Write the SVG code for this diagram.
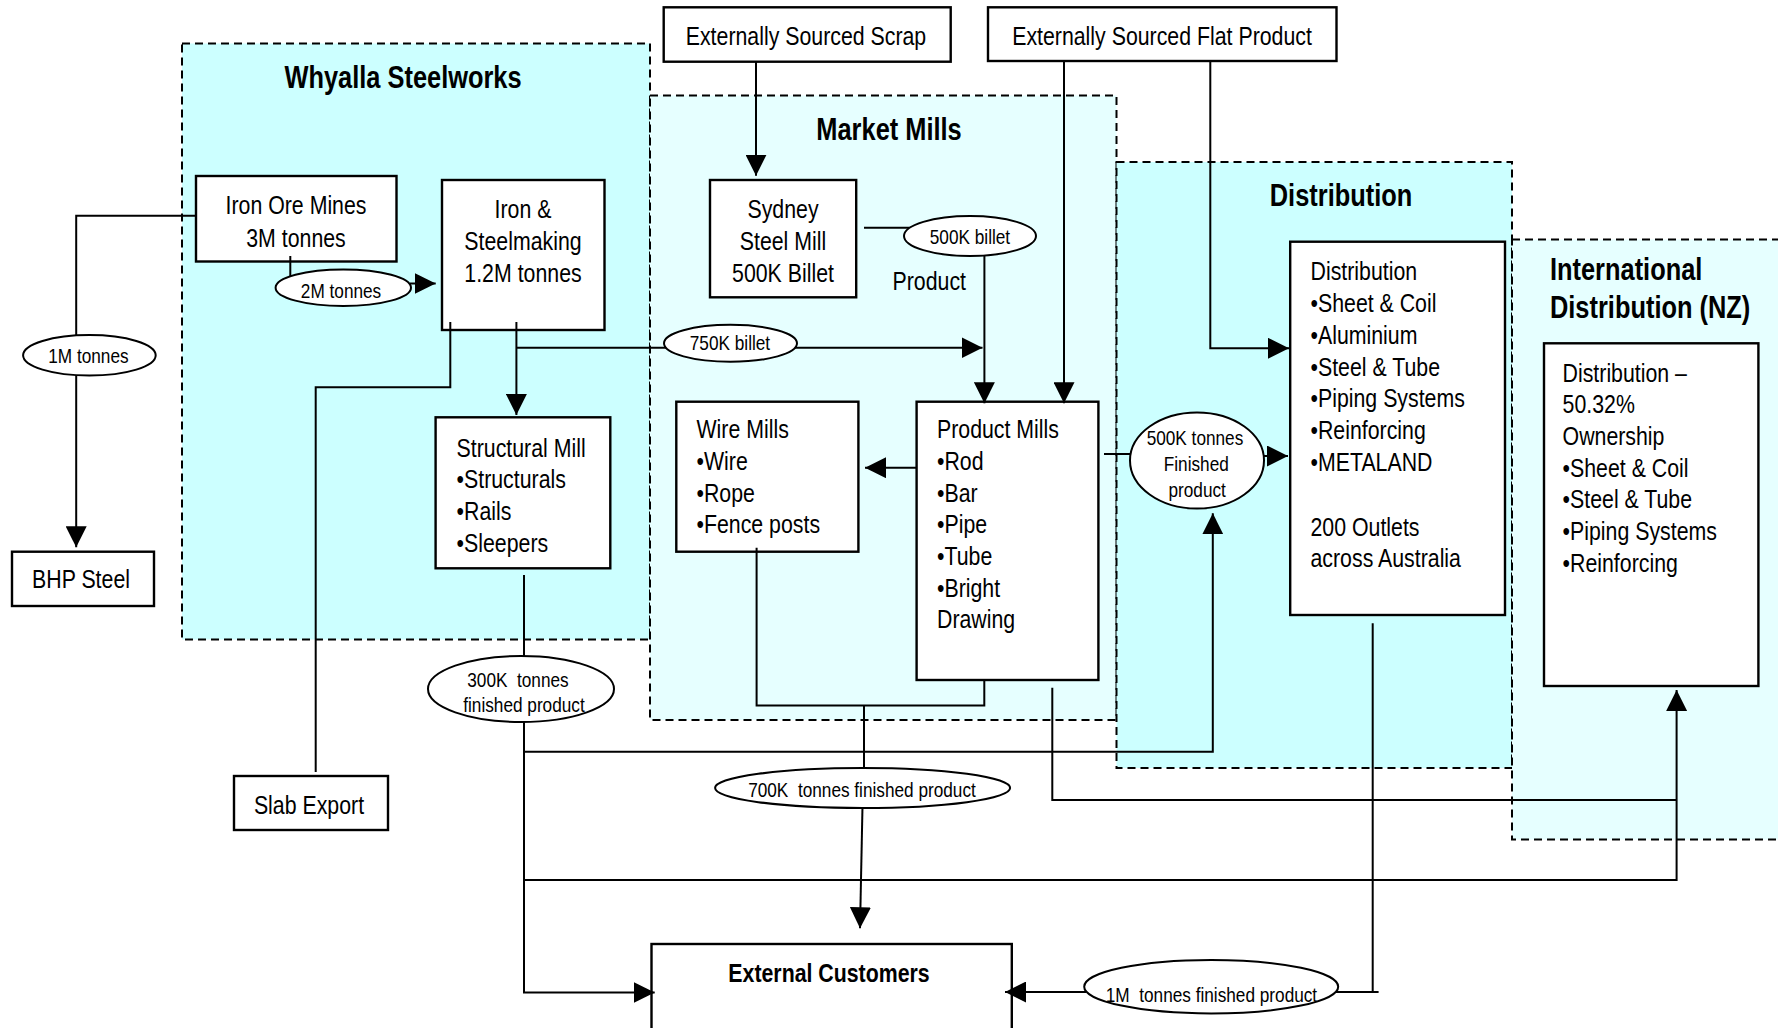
<svg xmlns="http://www.w3.org/2000/svg" width="1778" height="1028" viewBox="0 0 1778 1028">
<defs>
<style>
.reg1{fill:#CCFFFF;stroke:#000;stroke-width:2;stroke-dasharray:8,5}
.reg2{fill:#E6FFFF;stroke:#000;stroke-width:2;stroke-dasharray:8,5}
.box{fill:#fff;stroke:#000;stroke-width:2.4}
.ell{fill:#fff;stroke:#000;stroke-width:2}
.c{fill:none;stroke:#000;stroke-width:2}
.ca{fill:none;stroke:#000;stroke-width:2;marker-end:url(#arr)}
text{font-family:"Liberation Sans",Arial,sans-serif;fill:#000}
.t{font-size:26px}
.m{text-anchor:middle}
.h{font-size:31px;font-weight:bold}
.b{font-size:26px;font-weight:bold}
.e{font-size:21px;text-anchor:middle;white-space:pre}
</style>
<marker id="arr" markerUnits="userSpaceOnUse" markerWidth="21" markerHeight="21" refX="21" refY="10.5" orient="auto">
<path d="M0,0 L21,10.5 L0,21 Z" fill="#000"/>
</marker>
</defs>
<rect width="1778" height="1028" fill="#fff"/>

<g id="regions">
<g id="region-whyalla">
<rect class="reg1" x="182" y="43.5" width="468" height="596"/>
<g transform="scale(0.82 1)"><text class="h m" x="491.5" y="88">Whyalla Steelworks</text></g>
</g>
<g id="region-market">
<rect class="reg2" x="650" y="95.5" width="466.5" height="624.5"/>
<g transform="scale(0.82 1)"><text class="h m" x="1084.2" y="140">Market Mills</text></g>
</g>
<g id="region-distribution">
<rect class="reg1" x="1116.5" y="162" width="395.5" height="606"/>
<g transform="scale(0.82 1)"><text class="h m" x="1635.4" y="206">Distribution</text></g>
</g>
<g id="region-international">
<rect class="reg2" x="1512" y="239.5" width="300" height="600"/>
<g transform="scale(0.82 1)">
<text class="h" x="1890.2" y="280">International</text>
<text class="h" x="1890.2" y="318">Distribution (NZ)</text>
</g>
</g>
</g>

<g id="iron-ore-mines">
<rect class="box" x="196" y="176" width="200.5" height="85.5"/>
<g transform="scale(0.82 1)">
<text class="t m" x="361" y="214">Iron Ore Mines</text>
<text class="t m" x="361" y="246.7">3M tonnes</text>
</g>
</g>
<g id="iron-steelmaking">
<rect class="box" x="442" y="180" width="162.5" height="150"/>
<g transform="scale(0.82 1)">
<text class="t m" x="637.8" y="218">Iron &amp;</text>
<text class="t m" x="637.8" y="250">Steelmaking</text>
<text class="t m" x="637.8" y="282">1.2M tonnes</text>
</g>
</g>
<g id="structural-mill">
<rect class="box" x="435.6" y="417.3" width="174.7" height="151"/>
<g transform="scale(0.82 1)">
<text class="t" x="556.8" y="456.7">Structural Mill</text>
<text class="t" x="556.8" y="488.3">•Structurals</text>
<text class="t" x="556.8" y="520">•Rails</text>
<text class="t" x="556.8" y="551.7">•Sleepers</text>
</g>
</g>
<g id="bhp-steel">
<rect class="box" x="12" y="551.7" width="142" height="54.3"/>
<g transform="scale(0.82 1)"><text class="t m" x="98.8" y="588">BHP Steel</text></g>
</g>
<g id="slab-export">
<rect class="box" x="234" y="776" width="154" height="54"/>
<g transform="scale(0.82 1)"><text class="t m" x="376.8" y="814">Slab Export</text></g>
</g>
<g id="ext-scrap">
<rect class="box" x="663.7" y="7.3" width="287" height="54.4"/>
<g transform="scale(0.82 1)"><text class="t m" x="982.9" y="45">Externally Sourced Scrap</text></g>
</g>
<g id="ext-flat">
<rect class="box" x="988" y="7.3" width="348.5" height="53.7"/>
<g transform="scale(0.82 1)"><text class="t m" x="1417.1" y="45">Externally Sourced Flat Product</text></g>
</g>
<g id="sydney-steel-mill">
<rect class="box" x="710" y="180" width="146.2" height="117.3"/>
<g transform="scale(0.82 1)">
<text class="t m" x="954.9" y="218.3">Sydney</text>
<text class="t m" x="954.9" y="250">Steel Mill</text>
<text class="t m" x="954.9" y="281.7">500K Billet</text>
</g>
</g>
<g id="wire-mills">
<rect class="box" x="676.3" y="401.7" width="182.1" height="150"/>
<g transform="scale(0.82 1)">
<text class="t" x="849.4" y="438.3">Wire Mills</text>
<text class="t" x="849.4" y="470">•Wire</text>
<text class="t" x="849.4" y="501.7">•Rope</text>
<text class="t" x="849.4" y="533.3">•Fence posts</text>
</g>
</g>
<g id="product-mills">
<rect class="box" x="916.6" y="401.7" width="181.8" height="278.3"/>
<g transform="scale(0.82 1)">
<text class="t" x="1142.7" y="438.3">Product Mills</text>
<text class="t" x="1142.7" y="470">•Rod</text>
<text class="t" x="1142.7" y="501.7">•Bar</text>
<text class="t" x="1142.7" y="533.3">•Pipe</text>
<text class="t" x="1142.7" y="565">•Tube</text>
<text class="t" x="1142.7" y="596.7">•Bright</text>
<text class="t" x="1142.7" y="628.3">Drawing</text>
</g>
</g>
<g id="distribution">
<rect class="box" x="1290.2" y="241.7" width="214.8" height="373.3"/>
<g transform="scale(0.82 1)">
<text class="t" x="1598.2" y="280">Distribution</text>
<text class="t" x="1598.2" y="312">•Sheet &amp; Coil</text>
<text class="t" x="1598.2" y="344">•Aluminium</text>
<text class="t" x="1598.2" y="376">•Steel &amp; Tube</text>
<text class="t" x="1598.2" y="407.5">•Piping Systems</text>
<text class="t" x="1598.2" y="439">•Reinforcing</text>
<text class="t" x="1598.2" y="471">•METALAND</text>
<text class="t" x="1598.2" y="536">200 Outlets</text>
<text class="t" x="1598.2" y="567.5">across Australia</text>
</g>
</g>
<g id="international-distribution">
<rect class="box" x="1544" y="343.3" width="214.4" height="342.7"/>
<g transform="scale(0.82 1)">
<text class="t" x="1905.6" y="381.7">Distribution –</text>
<text class="t" x="1905.6" y="413.3">50.32%</text>
<text class="t" x="1905.6" y="445">Ownership</text>
<text class="t" x="1905.6" y="476.7">•Sheet &amp; Coil</text>
<text class="t" x="1905.6" y="508.3">•Steel &amp; Tube</text>
<text class="t" x="1905.6" y="540">•Piping Systems</text>
<text class="t" x="1905.6" y="571.7">•Reinforcing</text>
</g>
</g>
<g id="external-customers">
<rect class="box" x="651.5" y="944" width="360.3" height="100"/>
<g transform="scale(0.82 1)"><text class="b m" x="1011" y="981.7">External Customers</text></g>
</g>
<g id="product-label">
<g transform="scale(0.82 1)"><text class="t" x="1088.5" y="290">Product</text></g>
</g>

<g id="connectors">
<path class="ca" d="M196,215.7 H76.2 V547.3"/>
<path class="c" d="M290.3,256 V277"/>
<path class="ca" d="M410,283.5 H435.7"/>
<path class="ca" d="M516.4,322 V415"/>
<path class="ca" d="M516.4,347.7 H982.5"/>
<path class="c" d="M450.3,322 V387.3 H315.7 V772"/>
<path class="ca" d="M756,61.7 V175.7"/>
<path class="c" d="M864,227.7 H920"/>
<path class="ca" d="M984.4,250 V403.3"/>
<path class="ca" d="M1064,61 V403.3"/>
<path class="ca" d="M1210.3,61 V348.3 H1289"/>
<path class="ca" d="M916.6,467.7 H865"/>
<path class="c" d="M1104,454 H1140"/>
<path class="ca" d="M1262,456 H1288"/>
<path class="c" d="M756.6,547.7 V705.5 H984.3 V680"/>
<path class="c" d="M864,705.5 V770"/>
<path class="ca" d="M862.5,806 L860,928.3"/>
<path class="c" d="M524,575 V660"/>
<path class="ca" d="M524,718 V992.5 H654.7"/>
<path class="ca" d="M524,751.7 H1212.8 V513.3"/>
<path class="ca" d="M524,880 H1676.6 V690"/>
<path class="c" d="M1052.3,687.7 V800 H1676.6"/>
<path class="c" d="M1372.7,623.3 V992 M1336,992 H1378.6"/>
<path class="ca" d="M1086,992 H1005"/>

<g id="label-1m">
<ellipse class="ell" cx="89.4" cy="355.3" rx="66.3" ry="20.3"/>
<g transform="scale(0.82 1)"><text class="e" x="107.8" y="363.3">1M tonnes</text></g>
</g>
<g id="label-2m">
<ellipse class="ell" cx="343.3" cy="287.7" rx="67.7" ry="18.3"/>
<g transform="scale(0.82 1)"><text class="e" x="415.9" y="298.3">2M tonnes</text></g>
</g>
<g id="label-750k">
<ellipse class="ell" cx="730.5" cy="343.3" rx="66.5" ry="18.5"/>
<g transform="scale(0.82 1)"><text class="e" x="890.2" y="350.5">750K billet</text></g>
</g>
<g id="label-500k-billet">
<ellipse class="ell" cx="970" cy="236" rx="66" ry="20"/>
<g transform="scale(0.82 1)"><text class="e" x="1182.9" y="244">500K billet</text></g>
</g>
<g id="label-500k-tonnes">
<ellipse class="ell" cx="1197" cy="460.5" rx="67" ry="48"/>
<g transform="scale(0.82 1)">
<text class="e" x="1457.3" y="445">500K tonnes</text>
<text class="e" x="1458.9" y="470.7">Finished</text>
<text class="e" x="1460" y="496.7">product</text>
</g>
</g>
<g id="label-300k">
<ellipse class="ell" cx="521" cy="689" rx="93" ry="33"/>
<g transform="scale(0.82 1)">
<text class="e" x="631.7" y="686.7">300K  tonnes</text>
<text class="e" x="639" y="711.7">finished product</text>
</g>
</g>
<g id="label-700k">
<ellipse class="ell" cx="862.6" cy="788" rx="147.5" ry="20"/>
<g transform="scale(0.82 1)"><text class="e" x="1051.2" y="796.7">700K  tonnes finished product</text></g>
</g>
<g id="label-1m-finished">
<ellipse class="ell" cx="1211.2" cy="986.7" rx="127" ry="26.7"/>
<g transform="scale(0.82 1)"><text class="e" x="1477.4" y="1001.7">1M  tonnes finished product</text></g>
</g>
</g>
</svg>
